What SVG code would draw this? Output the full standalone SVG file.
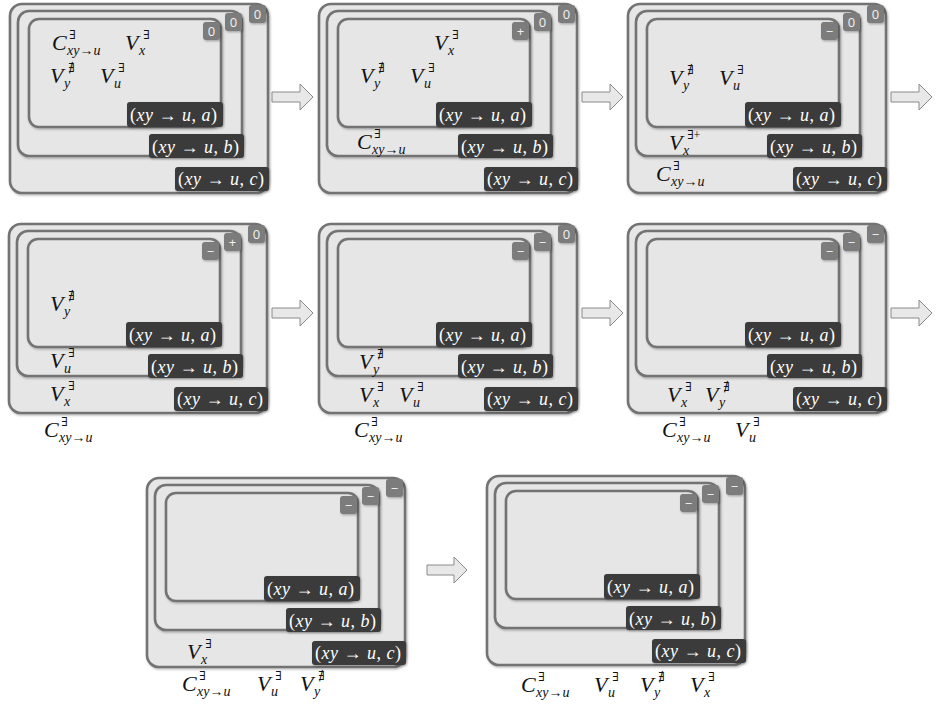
<svg xmlns="http://www.w3.org/2000/svg" width="936" height="705" viewBox="0 0 936 705">
<defs>
<filter id="sh" x="-10%" y="-10%" width="130%" height="130%"><feDropShadow dx="1" dy="1.2" stdDeviation="1" flood-color="#000" flood-opacity="0.3"/></filter>
<style>
.o{fill:#e6e6e6;stroke:#737373;stroke-width:2.6;filter:url(#sh)}
.bd{fill:#7b7b7b;filter:url(#sh)}
.bt{font-family:"Open Sans","Liberation Sans",sans-serif;font-size:13px;fill:#f2f2f2;text-anchor:middle}
.lb{fill:#3b3b3b;filter:url(#sh)}
.lt{font-family:"Liberation Serif","DejaVu Serif",serif;font-size:18px;fill:#ffffff}
.i{font-style:italic}
.m{font-family:"Liberation Serif","DejaVu Serif",serif;font-size:22px;font-style:italic;fill:#111}
.sp{font-size:12px;font-style:normal}
.sb{font-size:14px}
.ar{fill:#e8e8e8;stroke:#8a8a8a;stroke-width:1}
</style>
</defs>
<rect width="936" height="705" fill="#ffffff"/>

<g id="connectors">
<path class="ar" d="M272,92 H300 V84 L313,97 L300,110 V102 H272 Z"/>
<path class="ar" d="M582,92 H610 V84 L623,97 L610,110 V102 H582 Z"/>
<path class="ar" d="M891,92 H919 V84 L932,97 L919,110 V102 H891 Z"/>
<path class="ar" d="M272,308 H300 V300 L313,313 L300,326 V318 H272 Z"/>
<path class="ar" d="M582,308 H610 V300 L623,313 L610,326 V318 H582 Z"/>
<path class="ar" d="M891,308 H919 V300 L932,313 L919,326 V318 H891 Z"/>
<path class="ar" d="M427,565 H454 V557 L467,570 L454,583 V575 H427 Z"/>
</g>

<!-- Panel 1 -->
<g id="p1">
<g transform="translate(10,4)">
<rect class="o" x="0" y="0" width="258" height="189" rx="12"/>
<rect class="o" x="8" y="7" width="224" height="145" rx="11"/>
<rect class="o" x="19" y="15" width="192" height="108" rx="10"/>
<rect class="bd" x="239" y="1" width="17" height="18" rx="3"/><text class="bt" x="247.5" y="15">0</text>
<rect class="bd" x="215" y="9" width="17" height="18" rx="3"/><text class="bt" x="223.5" y="23">0</text>
<rect class="bd" x="193" y="18" width="17" height="18" rx="3"/><text class="bt" x="201.5" y="32">0</text>
<rect class="lb" x="117" y="98" width="96" height="25" rx="3"/><text class="lt" x="120" y="117" textLength="87" lengthAdjust="spacing">(<tspan class="i">xy</tspan> → <tspan class="i">u</tspan>, <tspan class="i">a</tspan>)</text>
<rect class="lb" x="139" y="130" width="95" height="24" rx="3"/><text class="lt" x="142" y="149" textLength="87" lengthAdjust="spacing">(<tspan class="i">xy</tspan> → <tspan class="i">u</tspan>, <tspan class="i">b</tspan>)</text>
<rect class="lb" x="165" y="163" width="94" height="24" rx="3"/><text class="lt" x="168" y="181" textLength="86" lengthAdjust="spacing">(<tspan class="i">xy</tspan> → <tspan class="i">u</tspan>, <tspan class="i">c</tspan>)</text>
</g>
<text class="m"><tspan x="52" y="50">C</tspan><tspan class="sp" x="69" y="39">∃</tspan><tspan class="sb" x="67" y="55">xy→u</tspan></text>
<text class="m"><tspan x="125" y="50">V</tspan><tspan class="sp" x="143" y="39">∃</tspan><tspan class="sb" x="139" y="55">x</tspan></text>
<text class="m"><tspan x="50" y="83">V</tspan><tspan class="sp" x="68" y="72">∄</tspan><tspan class="sb" x="64" y="88">y</tspan></text>
<text class="m"><tspan x="100" y="83">V</tspan><tspan class="sp" x="118" y="72">∃</tspan><tspan class="sb" x="114" y="88">u</tspan></text>
</g>

<!-- Panel 2 -->
<g id="p2">
<g transform="translate(319,4)">
<rect class="o" x="0" y="0" width="258" height="189" rx="12"/>
<rect class="o" x="8" y="7" width="224" height="145" rx="11"/>
<rect class="o" x="19" y="15" width="192" height="108" rx="10"/>
<rect class="bd" x="239" y="1" width="17" height="18" rx="3"/><text class="bt" x="247.5" y="15">0</text>
<rect class="bd" x="215" y="9" width="17" height="18" rx="3"/><text class="bt" x="223.5" y="23">0</text>
<rect class="bd" x="193" y="18" width="17" height="18" rx="3"/><text class="bt" x="201.5" y="32">+</text>
<rect class="lb" x="117" y="98" width="96" height="25" rx="3"/><text class="lt" x="120" y="117" textLength="87" lengthAdjust="spacing">(<tspan class="i">xy</tspan> → <tspan class="i">u</tspan>, <tspan class="i">a</tspan>)</text>
<rect class="lb" x="139" y="130" width="95" height="24" rx="3"/><text class="lt" x="142" y="149" textLength="87" lengthAdjust="spacing">(<tspan class="i">xy</tspan> → <tspan class="i">u</tspan>, <tspan class="i">b</tspan>)</text>
<rect class="lb" x="165" y="163" width="94" height="24" rx="3"/><text class="lt" x="168" y="181" textLength="86" lengthAdjust="spacing">(<tspan class="i">xy</tspan> → <tspan class="i">u</tspan>, <tspan class="i">c</tspan>)</text>
</g>
<text class="m"><tspan x="434" y="50">V</tspan><tspan class="sp" x="452" y="39">∃</tspan><tspan class="sb" x="448" y="55">x</tspan></text>
<text class="m"><tspan x="360" y="83">V</tspan><tspan class="sp" x="378" y="72">∄</tspan><tspan class="sb" x="374" y="88">y</tspan></text>
<text class="m"><tspan x="410" y="83">V</tspan><tspan class="sp" x="428" y="72">∃</tspan><tspan class="sb" x="424" y="88">u</tspan></text>
<text class="m"><tspan x="357" y="149">C</tspan><tspan class="sp" x="374" y="138">∃</tspan><tspan class="sb" x="372" y="154">xy→u</tspan></text>
</g>

<!-- Panel 3 -->
<g id="p3">
<g transform="translate(628,4)">
<rect class="o" x="0" y="0" width="258" height="189" rx="12"/>
<rect class="o" x="8" y="7" width="224" height="145" rx="11"/>
<rect class="o" x="19" y="15" width="192" height="108" rx="10"/>
<rect class="bd" x="239" y="1" width="17" height="18" rx="3"/><text class="bt" x="247.5" y="15">0</text>
<rect class="bd" x="215" y="9" width="17" height="18" rx="3"/><text class="bt" x="223.5" y="23">0</text>
<rect class="bd" x="193" y="18" width="17" height="18" rx="3"/><text class="bt" x="201.5" y="32">−</text>
<rect class="lb" x="117" y="98" width="96" height="25" rx="3"/><text class="lt" x="120" y="117" textLength="87" lengthAdjust="spacing">(<tspan class="i">xy</tspan> → <tspan class="i">u</tspan>, <tspan class="i">a</tspan>)</text>
<rect class="lb" x="139" y="130" width="95" height="24" rx="3"/><text class="lt" x="142" y="149" textLength="87" lengthAdjust="spacing">(<tspan class="i">xy</tspan> → <tspan class="i">u</tspan>, <tspan class="i">b</tspan>)</text>
<rect class="lb" x="165" y="163" width="94" height="24" rx="3"/><text class="lt" x="168" y="181" textLength="86" lengthAdjust="spacing">(<tspan class="i">xy</tspan> → <tspan class="i">u</tspan>, <tspan class="i">c</tspan>)</text>
</g>
<text class="m"><tspan x="669" y="85">V</tspan><tspan class="sp" x="687" y="74">∄</tspan><tspan class="sb" x="683" y="90">y</tspan></text>
<text class="m"><tspan x="719" y="85">V</tspan><tspan class="sp" x="737" y="74">∃</tspan><tspan class="sb" x="733" y="90">u</tspan></text>
<text class="m"><tspan x="669" y="150">V</tspan><tspan class="sp" x="687" y="139">∃+</tspan><tspan class="sb" x="683" y="155">x</tspan></text>
<text class="m"><tspan x="656" y="181">C</tspan><tspan class="sp" x="673" y="170">∃</tspan><tspan class="sb" x="671" y="186">xy→u</tspan></text>
</g>

<!-- Panel 4 -->
<g id="p4">
<g transform="translate(9,224)">
<rect class="o" x="0" y="0" width="258" height="189" rx="12"/>
<rect class="o" x="8" y="7" width="224" height="145" rx="11"/>
<rect class="o" x="19" y="15" width="192" height="108" rx="10"/>
<rect class="bd" x="239" y="1" width="17" height="18" rx="3"/><text class="bt" x="247.5" y="15">0</text>
<rect class="bd" x="215" y="9" width="17" height="18" rx="3"/><text class="bt" x="223.5" y="23">+</text>
<rect class="bd" x="193" y="18" width="17" height="18" rx="3"/><text class="bt" x="201.5" y="32">−</text>
<rect class="lb" x="117" y="98" width="96" height="25" rx="3"/><text class="lt" x="120" y="117" textLength="87" lengthAdjust="spacing">(<tspan class="i">xy</tspan> → <tspan class="i">u</tspan>, <tspan class="i">a</tspan>)</text>
<rect class="lb" x="139" y="130" width="95" height="24" rx="3"/><text class="lt" x="142" y="149" textLength="87" lengthAdjust="spacing">(<tspan class="i">xy</tspan> → <tspan class="i">u</tspan>, <tspan class="i">b</tspan>)</text>
<rect class="lb" x="165" y="163" width="94" height="24" rx="3"/><text class="lt" x="168" y="181" textLength="86" lengthAdjust="spacing">(<tspan class="i">xy</tspan> → <tspan class="i">u</tspan>, <tspan class="i">c</tspan>)</text>
</g>
<text class="m"><tspan x="50" y="311">V</tspan><tspan class="sp" x="68" y="300">∄</tspan><tspan class="sb" x="64" y="316">y</tspan></text>
<text class="m"><tspan x="50" y="368">V</tspan><tspan class="sp" x="68" y="357">∃</tspan><tspan class="sb" x="64" y="373">u</tspan></text>
<text class="m"><tspan x="50" y="401">V</tspan><tspan class="sp" x="68" y="390">∃</tspan><tspan class="sb" x="64" y="406">x</tspan></text>
<text class="m"><tspan x="44" y="437">C</tspan><tspan class="sp" x="61" y="426">∃</tspan><tspan class="sb" x="59" y="442">xy→u</tspan></text>
</g>

<!-- Panel 5 -->
<g id="p5">
<g transform="translate(319,224)">
<rect class="o" x="0" y="0" width="258" height="189" rx="12"/>
<rect class="o" x="8" y="7" width="224" height="145" rx="11"/>
<rect class="o" x="19" y="15" width="192" height="108" rx="10"/>
<rect class="bd" x="239" y="1" width="17" height="18" rx="3"/><text class="bt" x="247.5" y="15">0</text>
<rect class="bd" x="215" y="9" width="17" height="18" rx="3"/><text class="bt" x="223.5" y="23">−</text>
<rect class="bd" x="193" y="18" width="17" height="18" rx="3"/><text class="bt" x="201.5" y="32">−</text>
<rect class="lb" x="117" y="98" width="96" height="25" rx="3"/><text class="lt" x="120" y="117" textLength="87" lengthAdjust="spacing">(<tspan class="i">xy</tspan> → <tspan class="i">u</tspan>, <tspan class="i">a</tspan>)</text>
<rect class="lb" x="139" y="130" width="95" height="24" rx="3"/><text class="lt" x="142" y="149" textLength="87" lengthAdjust="spacing">(<tspan class="i">xy</tspan> → <tspan class="i">u</tspan>, <tspan class="i">b</tspan>)</text>
<rect class="lb" x="165" y="163" width="94" height="24" rx="3"/><text class="lt" x="168" y="181" textLength="86" lengthAdjust="spacing">(<tspan class="i">xy</tspan> → <tspan class="i">u</tspan>, <tspan class="i">c</tspan>)</text>
</g>
<text class="m"><tspan x="359" y="369">V</tspan><tspan class="sp" x="377" y="358">∄</tspan><tspan class="sb" x="373" y="374">y</tspan></text>
<text class="m"><tspan x="359" y="402">V</tspan><tspan class="sp" x="377" y="391">∃</tspan><tspan class="sb" x="373" y="407">x</tspan></text>
<text class="m"><tspan x="399" y="402">V</tspan><tspan class="sp" x="417" y="391">∃</tspan><tspan class="sb" x="413" y="407">u</tspan></text>
<text class="m"><tspan x="354" y="437">C</tspan><tspan class="sp" x="371" y="426">∃</tspan><tspan class="sb" x="369" y="442">xy→u</tspan></text>
</g>

<!-- Panel 6 -->
<g id="p6">
<g transform="translate(628,224)">
<rect class="o" x="0" y="0" width="258" height="189" rx="12"/>
<rect class="o" x="8" y="7" width="224" height="145" rx="11"/>
<rect class="o" x="19" y="15" width="192" height="108" rx="10"/>
<rect class="bd" x="239" y="1" width="17" height="18" rx="3"/><text class="bt" x="247.5" y="15">−</text>
<rect class="bd" x="215" y="9" width="17" height="18" rx="3"/><text class="bt" x="223.5" y="23">−</text>
<rect class="bd" x="193" y="18" width="17" height="18" rx="3"/><text class="bt" x="201.5" y="32">−</text>
<rect class="lb" x="117" y="98" width="96" height="25" rx="3"/><text class="lt" x="120" y="117" textLength="87" lengthAdjust="spacing">(<tspan class="i">xy</tspan> → <tspan class="i">u</tspan>, <tspan class="i">a</tspan>)</text>
<rect class="lb" x="139" y="130" width="95" height="24" rx="3"/><text class="lt" x="142" y="149" textLength="87" lengthAdjust="spacing">(<tspan class="i">xy</tspan> → <tspan class="i">u</tspan>, <tspan class="i">b</tspan>)</text>
<rect class="lb" x="165" y="163" width="94" height="24" rx="3"/><text class="lt" x="168" y="181" textLength="86" lengthAdjust="spacing">(<tspan class="i">xy</tspan> → <tspan class="i">u</tspan>, <tspan class="i">c</tspan>)</text>
</g>
<text class="m"><tspan x="667" y="402">V</tspan><tspan class="sp" x="685" y="391">∃</tspan><tspan class="sb" x="681" y="407">x</tspan></text>
<text class="m"><tspan x="705" y="402">V</tspan><tspan class="sp" x="723" y="391">∄</tspan><tspan class="sb" x="719" y="407">y</tspan></text>
<text class="m"><tspan x="662" y="437">C</tspan><tspan class="sp" x="679" y="426">∃</tspan><tspan class="sb" x="677" y="442">xy→u</tspan></text>
<text class="m"><tspan x="735" y="437">V</tspan><tspan class="sp" x="753" y="426">∃</tspan><tspan class="sb" x="749" y="442">u</tspan></text>
</g>

<!-- Panel 7 -->
<g id="p7">
<g transform="translate(147,478)">
<rect class="o" x="0" y="0" width="258" height="189" rx="12"/>
<rect class="o" x="8" y="7" width="224" height="145" rx="11"/>
<rect class="o" x="19" y="15" width="192" height="108" rx="10"/>
<rect class="bd" x="239" y="1" width="17" height="18" rx="3"/><text class="bt" x="247.5" y="15">−</text>
<rect class="bd" x="215" y="9" width="17" height="18" rx="3"/><text class="bt" x="223.5" y="23">−</text>
<rect class="bd" x="193" y="18" width="17" height="18" rx="3"/><text class="bt" x="201.5" y="32">−</text>
<rect class="lb" x="117" y="98" width="96" height="25" rx="3"/><text class="lt" x="120" y="117" textLength="87" lengthAdjust="spacing">(<tspan class="i">xy</tspan> → <tspan class="i">u</tspan>, <tspan class="i">a</tspan>)</text>
<rect class="lb" x="139" y="130" width="95" height="24" rx="3"/><text class="lt" x="142" y="149" textLength="87" lengthAdjust="spacing">(<tspan class="i">xy</tspan> → <tspan class="i">u</tspan>, <tspan class="i">b</tspan>)</text>
<rect class="lb" x="165" y="163" width="94" height="24" rx="3"/><text class="lt" x="168" y="181" textLength="86" lengthAdjust="spacing">(<tspan class="i">xy</tspan> → <tspan class="i">u</tspan>, <tspan class="i">c</tspan>)</text>
</g>
<text class="m"><tspan x="187" y="659">V</tspan><tspan class="sp" x="205" y="648">∃</tspan><tspan class="sb" x="201" y="664">x</tspan></text>
<text class="m"><tspan x="182" y="691">C</tspan><tspan class="sp" x="199" y="680">∃</tspan><tspan class="sb" x="197" y="696">xy→u</tspan></text>
<text class="m"><tspan x="257" y="691">V</tspan><tspan class="sp" x="275" y="680">∃</tspan><tspan class="sb" x="271" y="696">u</tspan></text>
<text class="m"><tspan x="300" y="691">V</tspan><tspan class="sp" x="318" y="680">∄</tspan><tspan class="sb" x="314" y="696">y</tspan></text>
</g>

<!-- Panel 8 -->
<g id="p8">
<g transform="translate(487,476)">
<rect class="o" x="0" y="0" width="258" height="189" rx="12"/>
<rect class="o" x="8" y="7" width="224" height="145" rx="11"/>
<rect class="o" x="19" y="15" width="192" height="108" rx="10"/>
<rect class="bd" x="239" y="1" width="17" height="18" rx="3"/><text class="bt" x="247.5" y="15">−</text>
<rect class="bd" x="215" y="9" width="17" height="18" rx="3"/><text class="bt" x="223.5" y="23">−</text>
<rect class="bd" x="193" y="18" width="17" height="18" rx="3"/><text class="bt" x="201.5" y="32">−</text>
<rect class="lb" x="117" y="98" width="96" height="25" rx="3"/><text class="lt" x="120" y="117" textLength="87" lengthAdjust="spacing">(<tspan class="i">xy</tspan> → <tspan class="i">u</tspan>, <tspan class="i">a</tspan>)</text>
<rect class="lb" x="139" y="130" width="95" height="24" rx="3"/><text class="lt" x="142" y="149" textLength="87" lengthAdjust="spacing">(<tspan class="i">xy</tspan> → <tspan class="i">u</tspan>, <tspan class="i">b</tspan>)</text>
<rect class="lb" x="165" y="163" width="94" height="24" rx="3"/><text class="lt" x="168" y="181" textLength="86" lengthAdjust="spacing">(<tspan class="i">xy</tspan> → <tspan class="i">u</tspan>, <tspan class="i">c</tspan>)</text>
</g>
<text class="m"><tspan x="521" y="692">C</tspan><tspan class="sp" x="538" y="681">∃</tspan><tspan class="sb" x="536" y="697">xy→u</tspan></text>
<text class="m"><tspan x="594" y="692">V</tspan><tspan class="sp" x="612" y="681">∃</tspan><tspan class="sb" x="608" y="697">u</tspan></text>
<text class="m"><tspan x="640" y="692">V</tspan><tspan class="sp" x="658" y="681">∄</tspan><tspan class="sb" x="654" y="697">y</tspan></text>
<text class="m"><tspan x="690" y="692">V</tspan><tspan class="sp" x="708" y="681">∃</tspan><tspan class="sb" x="704" y="697">x</tspan></text>
</g>
</svg>
